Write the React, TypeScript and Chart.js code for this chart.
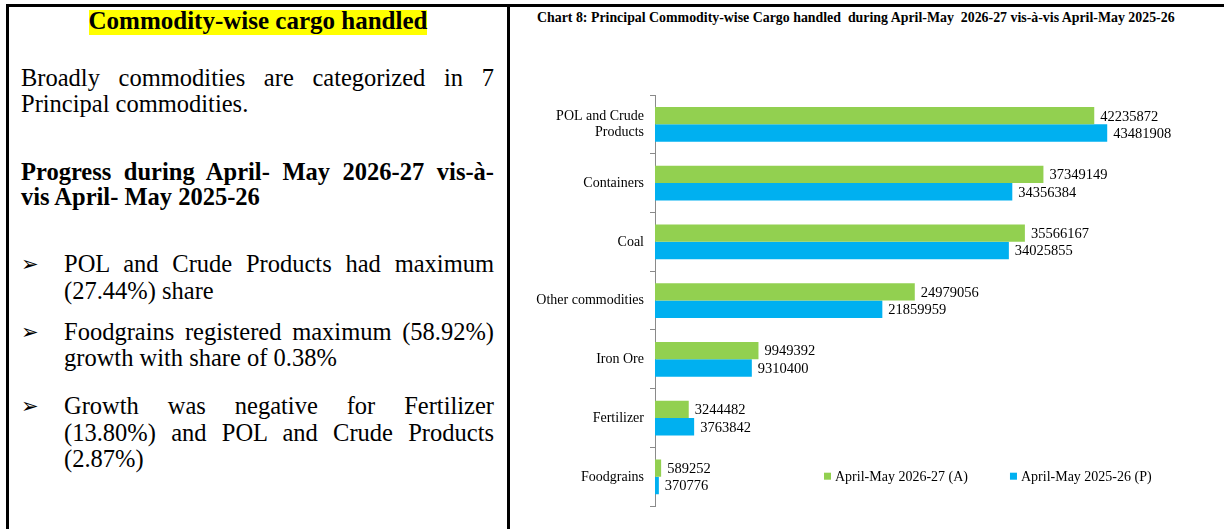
import React, { useEffect, useLayoutEffect, useRef } from 'react';
import { Chart, registerables } from 'chart.js';

Chart.register(...registerables);

const SERIF = "'Liberation Serif', 'Times New Roman', serif";

// ---- chart data ----
const categories: (string | string[])[] = [
  ['POL and Crude', 'Products'],
  'Containers',
  'Coal',
  'Other commodities',
  'Iron Ore',
  'Fertilizer',
  'Foodgrains',
];
const values2026 = [42235872, 37349149, 35566167, 24979056, 9949392, 3244482, 589252];
const values2025 = [43481908, 34356384, 34025855, 21859959, 9310400, 3763842, 370776];
const seriesLabels = ['April-May 2026-27 (A)', 'April-May 2025-26 (P)'];
const seriesColors = ['#92D050', '#00B0F0'];
const axisMax = 50000000;
const chartTitle =
  'Chart 8: Principal Commodity-wise Cargo handled\u00a0\u00a0during April-May\u00a0 2026-27 vis-à-vis April-May 2025-26';

const valueLabels = {
  id: 'valueLabels',
  afterDatasetsDraw(chart: any) {
    const ctx = chart.ctx;
    ctx.save();
    ctx.font = `14.5px ${SERIF}`;
    ctx.fillStyle = '#000';
    ctx.textBaseline = 'middle';
    ctx.textAlign = 'left';
    chart.data.datasets.forEach((ds: any, i: number) => {
      const meta = chart.getDatasetMeta(i);
      meta.data.forEach((el: any, j: number) => {
        ctx.fillText(String(ds.data[j]), el.x + 6, el.y + 1);
      });
    });
    ctx.restore();
  },
};

const innerLegend = {
  id: 'innerLegend',
  afterDraw(chart: any) {
    const ctx = chart.ctx;
    const area = chart.chartArea;
    ctx.save();
    ctx.font = `14px ${SERIF}`;
    ctx.textBaseline = 'middle';
    ctx.textAlign = 'left';
    let x = area.left + 169;
    const y = area.bottom - 30;
    chart.data.datasets.forEach((ds: any) => {
      ctx.fillStyle = ds.backgroundColor;
      ctx.fillRect(x, y - 3.5, 7, 7);
      ctx.fillStyle = '#000';
      ctx.fillText(ds.label, x + 11, y + 1);
      x += 11 + ctx.measureText(ds.label).width + 42;
    });
    ctx.restore();
  },
};

function CargoChart() {
  const ref = useRef<HTMLCanvasElement | null>(null);
  useEffect(() => {
    if (!ref.current) return;
    const chart = new Chart(ref.current, {
      type: 'bar',
      data: {
        labels: categories as any,
        datasets: [
          {
            label: seriesLabels[0],
            data: values2026,
            backgroundColor: seriesColors[0],
            categoryPercentage: 0.59,
            barPercentage: 1,
          },
          {
            label: seriesLabels[1],
            data: values2025,
            backgroundColor: seriesColors[1],
            categoryPercentage: 0.59,
            barPercentage: 1,
          },
        ],
      },
      options: {
        indexAxis: 'y',
        animation: false,
        responsive: true,
        maintainAspectRatio: false,
        layout: { padding: { top: 95, bottom: 17, left: 0, right: 49 } },
        plugins: {
          legend: { display: false },
          title: { display: false },
          tooltip: { enabled: false },
        },
        scales: {
          x: { display: false, min: 0, max: axisMax },
          y: {
            grid: {
              display: true,
              drawOnChartArea: false,
              drawTicks: true,
              tickLength: 5,
              color: '#8a8a8a',
              offset: true,
            },
            border: { display: true, color: '#8a8a8a' },
            ticks: {
              color: '#000',
              font: { family: SERIF, size: 14 },
              padding: 6,
              autoSkip: false,
            },
            afterFit(scale: any) {
              scale.width = 145;
            },
          },
        },
      },
      plugins: [valueLabels, innerLegend],
    } as any);
    return () => chart.destroy();
  }, []);
  return (
    <div style={{ position: 'absolute', left: 510, top: 0, width: 714, height: 529 }}>
      <canvas ref={ref} />
    </div>
  );
}

function ChartTitle() {
  const ref = useRef<HTMLSpanElement | null>(null);
  useLayoutEffect(() => {
    const el = ref.current;
    if (!el) return;
    const w = el.offsetWidth;
    if (w > 0) el.style.transform = `scaleX(${638 / w})`;
  }, []);
  return (
    <span
      ref={ref}
      style={{
        position: 'absolute',
        left: 537,
        top: 10,
        fontFamily: SERIF,
        fontWeight: 'bold',
        fontSize: 15,
        lineHeight: '15px',
        whiteSpace: 'nowrap',
        transformOrigin: 'left top',
        color: '#000',
      }}
    >
      {chartTitle}
    </span>
  );
}

type LineProps = {
  baseline: number;
  left: number;
  width: number;
  justify?: boolean;
  bold?: boolean;
  children: React.ReactNode;
};

function Line({ baseline, left, width, justify, bold, children }: LineProps) {
  return (
    <div
      style={{
        position: 'absolute',
        left,
        top: baseline - 21,
        width,
        fontFamily: SERIF,
        fontSize: 24.5,
        lineHeight: '26px',
        fontWeight: bold ? 'bold' : 'normal',
        textAlign: justify ? 'justify' : 'left',
        textAlignLast: justify ? 'justify' : 'left',
        color: '#000',
      } as any}
    >
      {children}
    </div>
  );
}

function Arrow({ baseline }: { baseline: number }) {
  return (
    <div
      style={{
        position: 'absolute',
        left: 21,
        top: baseline - 21,
        fontFamily: "'DejaVu Sans', sans-serif",
        fontSize: 21,
        lineHeight: '26px',
        color: '#000',
      }}
    >
      {'\u27A2'}
    </div>
  );
}

export default function App() {
  const TL = 21;
  const TW = 473;
  const BL = 64;
  const BW = 430;
  return (
    <div
      style={{
        position: 'fixed',
        left: 0,
        top: 0,
        width: 1224,
        height: 529,
        background: '#fff',
        overflow: 'hidden',
      }}
    >
      {/* table borders */}
      <div style={{ position: 'absolute', left: 6, top: 4, width: 1218, height: 3, background: '#000' }} />
      <div style={{ position: 'absolute', left: 6, top: 4, width: 3, height: 525, background: '#000' }} />
      <div style={{ position: 'absolute', left: 507, top: 4, width: 2.5, height: 525, background: '#000' }} />

      {/* left panel */}
      <div style={{ position: 'absolute', left: 9, top: 10, width: 498, textAlign: 'center' }}>
        <span
          style={{
            display: 'inline-block',
            height: 25,
            lineHeight: '22px',
            background: '#FFFF00',
            fontFamily: SERIF,
            fontWeight: 'bold',
            fontSize: 25,
            color: '#000',
          }}
        >
          Commodity-wise cargo handled
        </span>
      </div>

      <Line baseline={86} left={TL} width={TW} justify>
        Broadly commodities are categorized in 7
      </Line>
      <Line baseline={112} left={TL} width={TW}>
        Principal commodities.
      </Line>

      <Line baseline={180} left={TL} width={TW} justify bold>
        Progress during April- May 2026-27 vis-à-
      </Line>
      <Line baseline={205} left={TL} width={TW} bold>
        vis April- May 2025-26
      </Line>

      <Arrow baseline={272} />
      <Line baseline={272} left={BL} width={BW} justify>
        POL and Crude Products had maximum
      </Line>
      <Line baseline={299} left={BL} width={BW}>
        (27.44%) share
      </Line>

      <Arrow baseline={340} />
      <Line baseline={340} left={BL} width={BW} justify>
        Foodgrains registered maximum (58.92%)
      </Line>
      <Line baseline={366} left={BL} width={BW}>
        growth with share of 0.38%
      </Line>

      <Arrow baseline={414} />
      <Line baseline={414} left={BL} width={BW} justify>
        Growth was negative for Fertilizer
      </Line>
      <Line baseline={441} left={BL} width={BW} justify>
        (13.80%) and POL and Crude Products
      </Line>
      <Line baseline={467} left={BL} width={BW}>
        (2.87%)
      </Line>

      {/* right panel */}
      <ChartTitle />
      <CargoChart />
    </div>
  );
}
